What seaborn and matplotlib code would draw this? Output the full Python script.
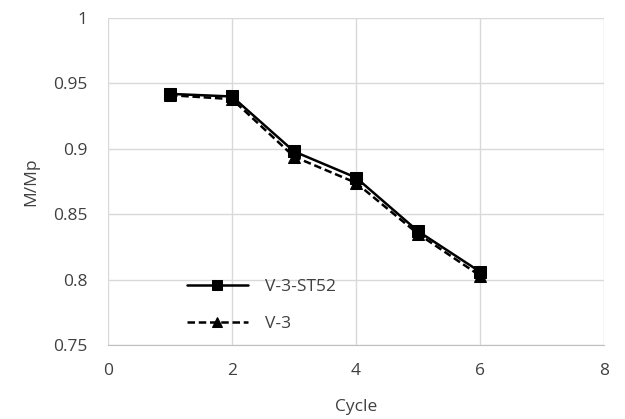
import numpy as np
import pandas as pd
import matplotlib
matplotlib.use("Agg")
import matplotlib.pyplot as plt
import seaborn as sns

# data
cycle = [1, 2, 3, 4, 5, 6]
st52 = [0.942, 0.940, 0.898, 0.878, 0.837, 0.806]
v3 = [0.941, 0.938, 0.894, 0.874, 0.835, 0.803]

df = pd.DataFrame({
    "Cycle": cycle * 2,
    "M/Mp": st52 + v3,
    "series": ["V-3-ST52"] * 6 + ["V-3"] * 6,
})

sns.set_style("white")
plt.rcParams['font.family'] = ['Open Sans', 'DejaVu Sans']

fig = plt.figure(figsize=(6.25, 4.19), dpi=100)
ax = fig.add_axes([0.1728, 0.1766, 0.7936, 0.7804])

sns.lineplot(data=df, x="Cycle", y="M/Mp", hue="series", style="series",
             palette=["black", "black"], dashes={"V-3-ST52": "", "V-3": (3, 1.5)},
             markers={"V-3-ST52": "s", "V-3": "^"}, markersize=9, linewidth=1.8,
             markeredgecolor="black", ax=ax)

ax.set_xlim(0, 8)
ax.set_ylim(0.75, 1)
ax.set_xticks(np.arange(0, 9, 2))
ax.set_yticks(np.arange(0.75, 1.001, 0.05))
ax.set_yticklabels(["0.75", "0.8", "0.85", "0.9", "0.95", "1"])
ax.grid(True, color="#d9d9d9", linewidth=1)
for s in ["top", "right", "left"]:
    ax.spines[s].set_visible(False)
ax.spines["bottom"].set_color("#bfbfbf")
ax.tick_params(axis="y", length=0, labelsize=12.5, colors="#404040", pad=15)
ax.tick_params(axis="x", length=0, labelsize=12.5, colors="#404040", pad=13)
ax.set_xlabel("Cycle", fontsize=12.5, color="#404040", labelpad=14)
ax.set_ylabel("M/Mp", fontsize=12.5, color="#404040", labelpad=10)

ax.legend(loc="lower left", bbox_to_anchor=(0.159, 0.04), frameon=False,
          borderpad=0, borderaxespad=0, markerscale=0.75,
          fontsize=12.5, handlelength=3.5, handletextpad=1.0,
          labelspacing=1.2, labelcolor="#404040")

fig.savefig("out.png", dpi=100)
